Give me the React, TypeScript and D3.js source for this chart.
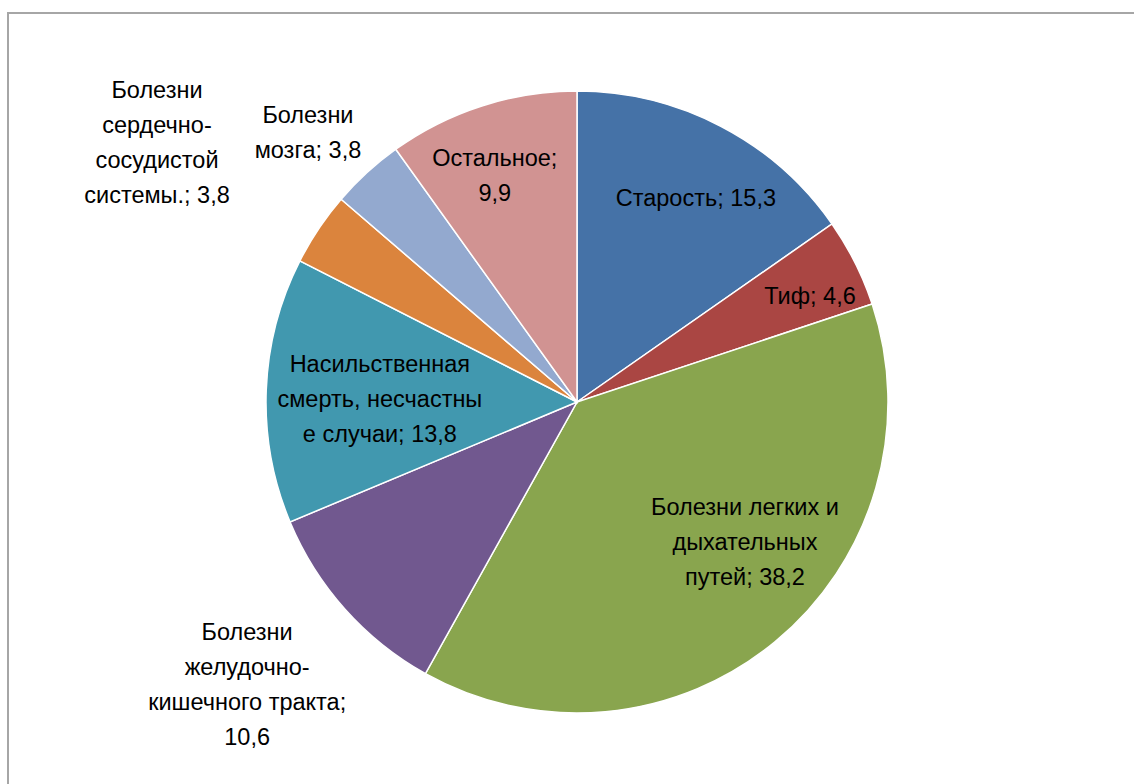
import * as d3 from "d3";

// causes of death, percent
const causes = [
  "Старость",
  "Тиф",
  "Болезни легких и дыхательных путей",
  "Болезни желудочно-кишечного тракта",
  "Насильственная смерть, несчастные случаи",
  "Болезни сердечно-сосудистой системы.",
  "Болезни мозга",
  "Остальное",
];
const shares = [15.3, 4.6, 38.2, 10.6, 13.8, 3.8, 3.8, 9.9];
const shareLabels = ["15,3", "4,6", "38,2", "10,6", "13,8", "3,8", "3,8", "9,9"];

// label text as wrapped by the original chart
const labelLines = [
  ["Старость; 15,3"],
  ["Тиф; 4,6"],
  ["Болезни легких и", "дыхательных", "путей; 38,2"],
  ["Болезни", "желудочно-", "кишечного тракта;", "10,6"],
  ["Насильственная", "смерть, несчастны", "е случаи; 13,8"],
  ["Болезни", "сердечно-", "сосудистой", "системы.; 3,8"],
  ["Болезни", "мозга; 3,8"],
  ["Остальное;", "9,9"],
];
// distance of each label from the centre (share of radius) and angle nudge in degrees
const labelRadius = [0.759, 0.823, 0.704, 1.396, 0.634, 1.588, 1.224, 0.776];
const labelNudge = [2.7, 2.2, -10.5, 1.2, -1.3, -2.1, -2.5, -2.1];

const colors = [
  "#4572A7",
  "#AA4643",
  "#89A54E",
  "#71588F",
  "#4198AF",
  "#DB843D",
  "#93A9CF",
  "#D19392",
];

export default function App() {
  const width = 1134;
  const height = 784;
  const cx = 577;
  const cy = 402;
  const r = 311;
  const lineH = 35;

  const pie = d3
    .pie<number>()
    .sort(null)
    .value((d) => d);
  const arcs = pie(shares);
  const arc = d3.arc<d3.PieArcDatum<number>>().innerRadius(0).outerRadius(r);

  return (
    <svg
      width={width}
      height={height}
      style={{ position: "absolute", left: 0, top: 0, background: "#fff" }}
      fontFamily="'Liberation Sans', Arial, sans-serif"
    >
      <rect x={8} y={13} width={1300} height={1000} fill="#fff" stroke="#a6a6a6" strokeWidth={2} />
      <g transform={`translate(${cx},${cy})`}>
        {arcs.map((a, i) => (
          <path key={causes[i]} d={arc(a) ?? ""} fill={colors[i]} stroke="#fff" strokeWidth={1.5} />
        ))}
        {arcs.map((a, i) => {
          const mid = (a.startAngle + a.endAngle) / 2 + (labelNudge[i] * Math.PI) / 180;
          const lr = r * labelRadius[i];
          const x = Math.sin(mid) * lr;
          const y = -Math.cos(mid) * lr;
          const lines = labelLines[i];
          const y0 = y - ((lines.length - 1) * lineH) / 2;
          return (
            <text
              key={"l" + i}
              x={x}
              y={y0}
              textAnchor="middle"
              dominantBaseline="central"
              fontSize={23.5}
              fill="#000"
              data-value={shareLabels[i]}
            >
              {lines.map((t, j) => (
                <tspan key={j} x={x} y={y0 + j * lineH}>
                  {t}
                </tspan>
              ))}
            </text>
          );
        })}
      </g>
    </svg>
  );
}
